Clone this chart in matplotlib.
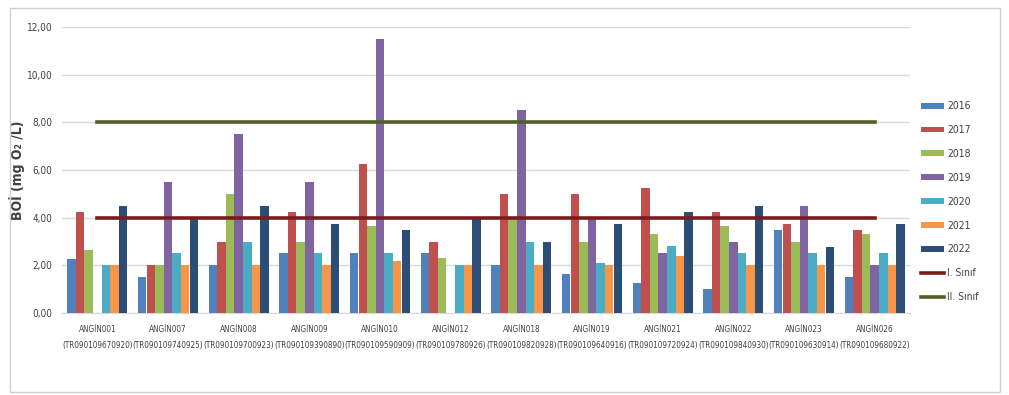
import matplotlib

matplotlib.use("Agg")

import matplotlib.pyplot as plt
import numpy as np
from matplotlib import font_manager
from matplotlib.patches import Rectangle

cond = font_manager.FontProperties(family="DejaVu Sans", stretch="condensed")
cond_file = font_manager.findfont(cond)
narrow = "condensed" if "Condensed" in cond_file else "normal"
plt.rcParams["font.family"] = ["DejaVu Sans"]
plt.rcParams["font.stretch"] = narrow

stations = ["ANGİN001", "ANGİN007", "ANGİN008", "ANGİN009", "ANGİN010", "ANGİN012",
            "ANGİN018", "ANGİN019", "ANGİN021", "ANGİN022", "ANGİN023", "ANGİN026"]
codes = ["TR090109670920", "TR090109740925", "TR090109700923", "TR090109390890",
         "TR090109590909", "TR090109780926", "TR090109820928", "TR090109640916",
         "TR090109720924", "TR090109840930", "TR090109630914", "TR090109680922"]

years = ["2016", "2017", "2018", "2019", "2020", "2021", "2022"]
v2016 = [2.25, 1.5, 2.0, 2.5, 2.5, 2.5, 2.0, 1.65, 1.25, 1.0, 3.5, 1.5]
v2017 = [4.25, 2.0, 3.0, 4.25, 6.25, 3.0, 5.0, 5.0, 5.25, 4.25, 3.75, 3.5]
v2018 = [2.65, 2.0, 5.0, 3.0, 3.65, 2.3, 3.95, 3.0, 3.3, 3.65, 3.0, 3.3]
v2019 = [np.nan, 5.5, 7.5, 5.5, 11.5, np.nan, 8.5, 4.0, 2.5, 3.0, 4.5, 2.0]
v2020 = [2.0, 2.5, 3.0, 2.5, 2.5, 2.0, 3.0, 2.1, 2.8, 2.5, 2.5, 2.5]
v2021 = [2.0, 2.0, 2.0, 2.0, 2.2, 2.0, 2.0, 2.0, 2.4, 2.0, 2.0, 2.0]
v2022 = [4.5, 3.95, 4.5, 3.75, 3.5, 3.95, 3.0, 3.75, 4.25, 4.5, 2.75, 3.75]
series = [v2016, v2017, v2018, v2019, v2020, v2021, v2022]

class1 = [4.0] * 12
class2 = [8.0] * 12

bar_colors = ["#4F81BD", "#C0504D", "#9BBB59", "#8064A2", "#4BACC6", "#F79646", "#2C4D75"]
c1_color = "#7B1C1C"
c2_color = "#4F6228"

fig = plt.figure(figsize=(10.09, 3.95), dpi=100)
fig.patch.set_facecolor("white")
fig.patches.append(Rectangle((10 / 1009, 3 / 395), 990 / 1009, 384 / 395, transform=fig.transFigure,
                             fill=False, edgecolor="#d0d0d0", linewidth=1.0))

ax = fig.add_axes([62 / 1009, 1 - 313 / 395, 848 / 1009, 286 / 395])

x = np.arange(len(stations))
w = 0.122
bars = []
for i, (vals, col, yr) in enumerate(zip(series, bar_colors, years)):
    bars.append(ax.bar(x + (i - 3) * w, vals, width=w * 0.98, color=col, label=yr, zorder=3))

l1, = ax.plot(x, class1, color=c1_color, linewidth=2.6, label="I. Sınıf", zorder=4)
l2, = ax.plot(x, class2, color=c2_color, linewidth=2.6, label="II. Sınıf", zorder=4)

ax.set_xlim(-0.5, len(stations) - 0.5)
ax.set_ylim(0, 12)
yt = np.arange(0, 12.1, 2)
ax.set_yticks(yt)
ax.set_yticklabels([f"{v:.2f}".replace(".", ",") for v in yt])
ax.set_xticks(x)
ax.set_xticklabels([f"{s}\n({c})" for s, c in zip(stations, codes)], linespacing=1.9)
lab_size = 5.9 if narrow == "condensed" else 5.3
ax.tick_params(axis="x", length=0, labelsize=lab_size, colors="#404040", pad=9)
ax.tick_params(axis="y", length=0, labelsize=7.2, colors="#404040", pad=7)

ax.grid(axis="y", color="#d9d9d9", linewidth=1.0, zorder=0)
for side in ["top", "right", "left"]:
    ax.spines[side].set_visible(False)
ax.spines["bottom"].set_color("#d9d9d9")

ax.set_ylabel("BOİ (mg O₂ /L)", fontsize=10, fontweight="bold", color="#404040", labelpad=1)

handles = [b for b in bars] + [l1, l2]
labels = years + ["I. Sınıf", "II. Sınıf"]
fig.legend(handles, labels, loc="upper left", bbox_to_anchor=(912 / 1009, 1 - 92 / 395),
           frameon=False, fontsize=7.5, labelspacing=1.33, handlelength=2.2,
           handleheight=0.5, handletextpad=0.3, labelcolor="#404040")

fig.savefig("out.png", dpi=100)
plt.close(fig)
